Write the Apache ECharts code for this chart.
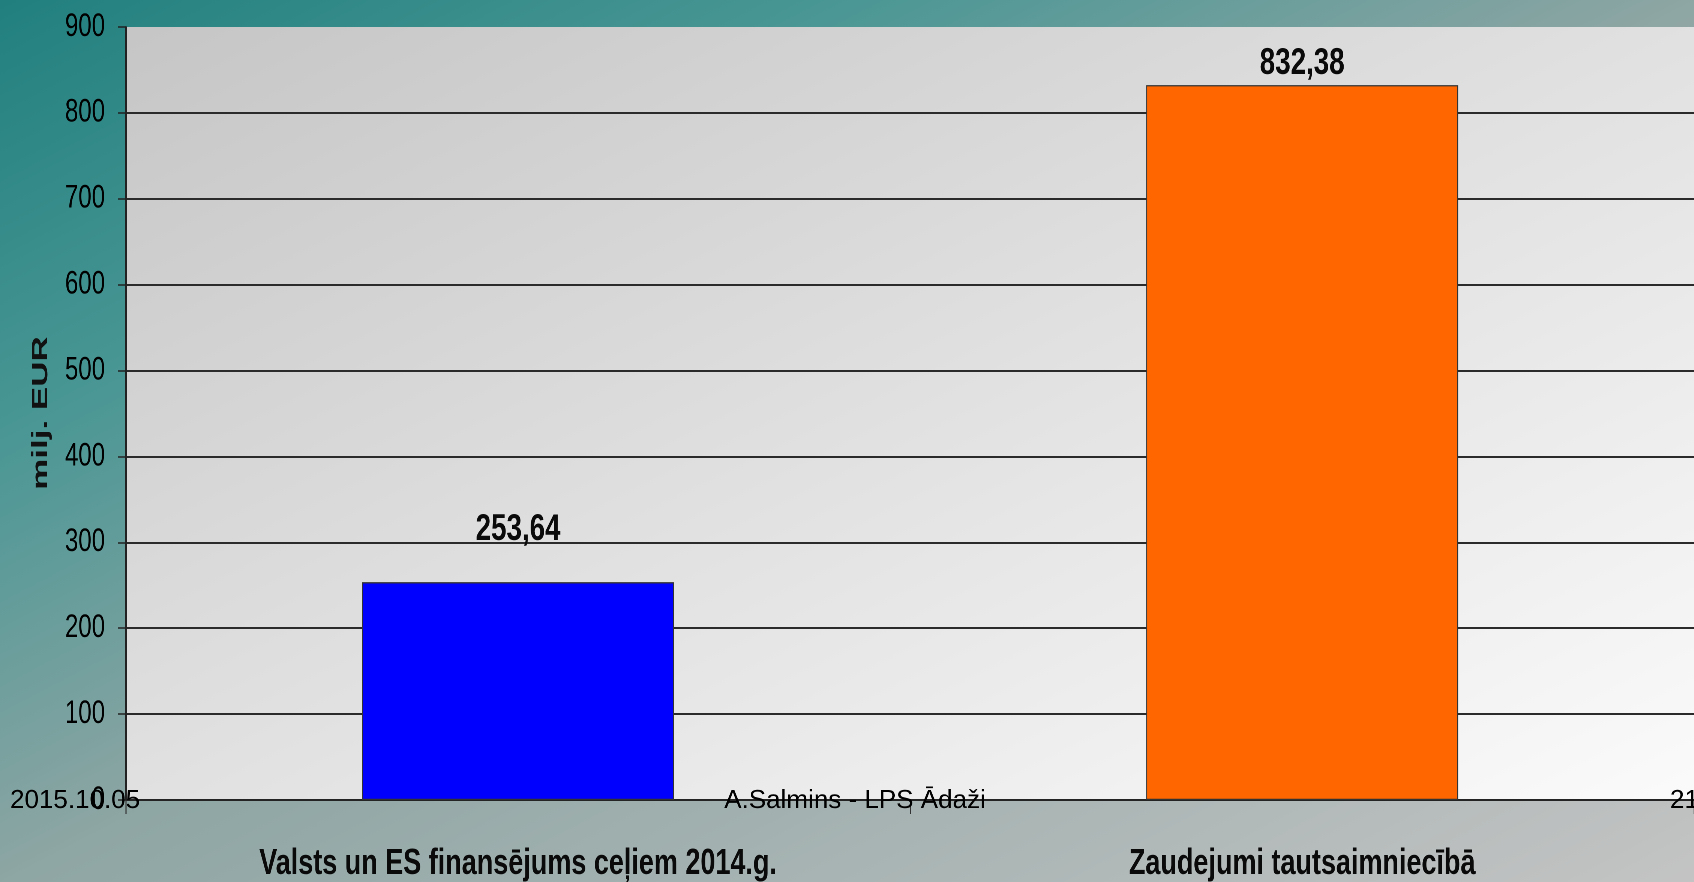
<!DOCTYPE html>
<html>
<head>
<meta charset="utf-8">
<title>milj. EUR</title>
<script src="https://cdn.jsdelivr.net/npm/echarts@6/dist/echarts.min.js"></script>
<style>
    html, body { margin: 0; padding: 0; width: 1694px; height: 882px; overflow: hidden; }
    /* the slide text is horizontally squeezed, so the chart is drawn wider and squeezed back */
    #chart { width: 2259px; height: 882px; transform: scaleX(0.75); transform-origin: 0 0; }
</style>
</head>
<body>
<div id="chart"></div>
<script>
var categories = ['Valsts un ES finansējums ceļiem 2014.g.', 'Zaudejumi tautsaimniecībā'];
var values = [253.64, 832.38];
var yTicks = [0, 100, 200, 300, 400, 500, 600, 700, 800, 900];

var squeeze = 0.75;
var barColors = ['#0000ff', '#ff6600'];
var labelGap = [34, 3];
var font = '"Liberation Sans", Arial, sans-serif';

var chart = echarts.init(document.getElementById('chart'), null, {devicePixelRatio: 2});

// screen x -> canvas x
const sx = function (x) {
    return x / squeeze;
};

// gradient running corner to corner, so the other two corners get the middle colour
const diagonal = function (w, h, stops) {
    var d = w * w + h * h;
    return new echarts.graphic.LinearGradient(0, 0, 2 * h * h / d, 2 * w * w / d, stops);
};

var footerText = function (text, x, align) {
    return {
        type: 'text',
        x: sx(x), y: 801,
        scaleX: 1 / squeeze,
        z: 10,
        style: {
            text: text,
            font: '26px ' + font,
            fill: '#000',
            align: align,
            verticalAlign: 'middle'
        }
    };
};

var option = {
    backgroundColor: diagonal(2259, 882, [
        {offset: 0, color: '#21807e'},
        {offset: 0.25, color: '#4a9795'},
        {offset: 0.5, color: '#8ea6a4'},
        {offset: 1, color: '#c4c4c4'}
    ]),
    animation: false,
    grid: {
        left: sx(126), top: 27, right: -3, bottom: 81,
        show: true,
        borderWidth: 0,
        backgroundColor: diagonal(2093, 774, [
            {offset: 0, color: '#c6c6c6'},
            {offset: 0.5, color: '#e1e1e1'},
            {offset: 1, color: '#fbfbfb'}
        ])
    },
    xAxis: {
        type: 'category',
        data: categories,
        axisLine: {lineStyle: {color: '#222', width: 1.5}},
        axisTick: {show: true, length: 14, lineStyle: {color: '#333', width: 1.5}},
        axisLabel: {
            interval: 0,
            margin: 46,
            fontFamily: font,
            fontWeight: 'bold',
            fontSize: 36,
            color: '#0a0a0a'
        }
    },
    yAxis: {
        type: 'value',
        min: yTicks[0],
        max: yTicks[yTicks.length - 1],
        interval: 100,
        axisLine: {show: true, lineStyle: {color: '#222', width: 2}},
        axisTick: {show: true, length: sx(8), lineStyle: {color: '#222', width: 1.5}},
        axisLabel: {
            margin: sx(21),
            fontFamily: font,
            fontSize: 32,
            color: '#000'
        },
        splitLine: {
            show: true,
            showMaxLine: false,
            lineStyle: {color: '#2b2b2b', width: 2}
        }
    },
    series: [{
        type: 'bar',
        barWidth: sx(312),
        data: values.map(function (v, i) {
            return {
                value: v,
                itemStyle: {color: barColors[i]},
                label: {distance: labelGap[i]}
            };
        }),
        itemStyle: {borderColor: '#333', borderWidth: 1.3},
        label: {
            show: true,
            position: 'top',
            fontFamily: font,
            fontWeight: 'bold',
            fontSize: 37,
            color: '#0a0a0a',
            formatter: function (p) {
                return p.value.toFixed(2).replace('.', ',');
            }
        }
    }],
    graphic: [
        {
            type: 'text',
            x: sx(41), y: 413,
            rotation: Math.PI / 2,
            scaleY: 0.85,
            z: 10,
            style: {
                text: 'milj. EUR',
                font: 'bold 35px ' + font,
                fill: '#111',
                align: 'center',
                verticalAlign: 'middle'
            }
        },
        footerText('2015.10.05', 10, 'left'),
        footerText('A.Salmins - LPS Ādaži', 855, 'center'),
        footerText('21', 1670, 'left')
    ]
};

chart.setOption(option);
</script>
</body>
</html>
